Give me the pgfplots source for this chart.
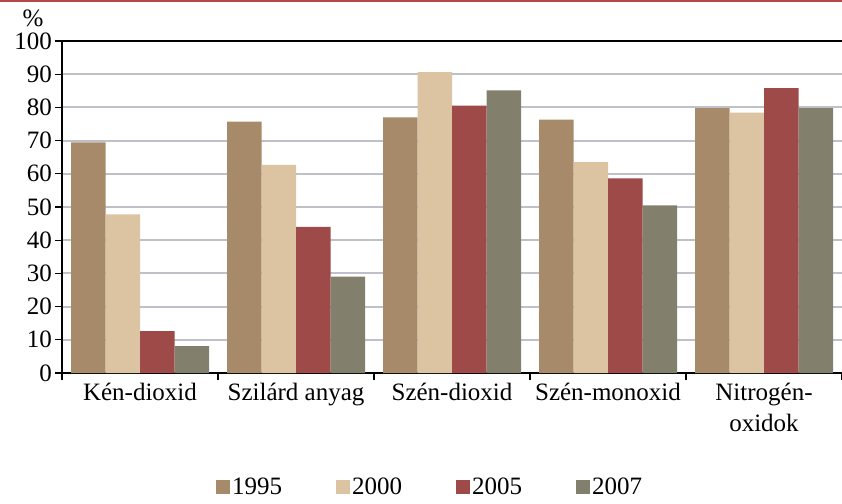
\documentclass[border=0pt]{standalone}
\usepackage{fontspec}
\setmainfont{Liberation Serif}
\usepackage{pgfplots}
\pgfplotsset{compat=1.18}
\definecolor{cA}{RGB}{166,138,106}
\definecolor{cB}{RGB}{220,195,162}
\definecolor{cC}{RGB}{158,74,72}
\definecolor{cD}{RGB}{130,128,108}
\definecolor{gridc}{RGB}{192,192,200}
\definecolor{topred}{RGB}{178,72,72}
\newcommand\lf{\fontsize{25}{31}\selectfont}
\begin{document}
\begin{tikzpicture}[x=1pt,y=1pt]
\useasboundingbox (0,0) rectangle (842,503);
\draw[topred, line width=1.5pt] (0,502) -- (842,502);
\node[font=\lf] at (33,485) {\%};
\begin{axis}[
  at={(62pt,130pt)}, anchor=south west,
  scale only axis, width=780pt, height=332pt,
  xmin=-0.5, xmax=4.5, ymin=0, ymax=100,
  ytick={0,10,...,100},
  xtick={-0.5,0.5,...,4.5},
  x tick label as interval,
  xticklabels={Kén-dioxid, Szilárd anyag, Szén-dioxid, Szén-monoxid, {Nitrogén-\\oxidok}},
  xticklabel style={font=\lf, align=center, inner sep=3pt},
  yticklabel style={font=\lf, inner sep=3pt},
  /pgf/number format/assume math mode=true,
  axis lines*=left,
  axis line style={black, line width=1.4pt},
  tick align=outside,
  major tick length=7pt,
  tick style={black, line width=1.2pt},
  ymajorgrids,
  grid style={gridc, line width=2pt},
  ybar=0pt, bar width=34.5pt,
  legend columns=4,
  legend style={at={(0.472,-0.343)}, anchor=center, draw=none, fill=none, font=\lf,
    /tikz/every even column/.append style={column sep=52pt}},
  legend image code/.code={\path[#1,draw=none] (0pt,-7pt) rectangle (14pt,7pt);},
]
\addplot[fill=cA, draw=none] coordinates {(0,69.5) (1,75.7) (2,77.0) (3,76.3) (4,79.8)};
\addplot[fill=cB, draw=none] coordinates {(0,47.8) (1,62.7) (2,90.6) (3,63.5) (4,78.4)};
\addplot[fill=cC, draw=none] coordinates {(0,12.6) (1,44.0) (2,80.5) (3,58.6) (4,85.8)};
\addplot[fill=cD, draw=none] coordinates {(0,8.1) (1,29.0) (2,85.1) (3,50.5) (4,79.8)};
\legend{1995,2000,2005,2007}
\draw[black, line width=1.8pt] (rel axis cs:0,1) -- (rel axis cs:1,1);
\end{axis}
\end{tikzpicture}
\end{document}
